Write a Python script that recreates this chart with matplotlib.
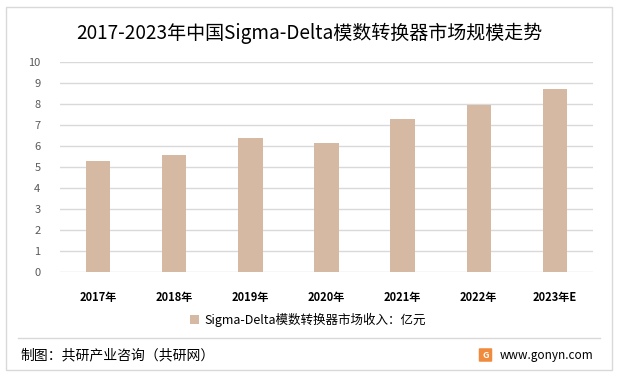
import matplotlib
matplotlib.use("Agg")
from matplotlib import pyplot as plt
from matplotlib.patches import Rectangle, FancyBboxPatch
from matplotlib.lines import Line2D

plt.rcParams['font.family'] = ['Noto Sans CJK SC', 'DejaVu Sans']

years = ['2017年', '2018年', '2019年', '2020年', '2021年', '2022年', '2023年E']
revenue = [5.3, 5.55, 6.4, 6.15, 7.3, 7.95, 8.7]
yticks = list(range(0, 11))

title = '2017-2023年中国Sigma-Delta模数转换器市场规模走势'
legend_label = 'Sigma-Delta模数转换器市场收入：亿元'

bar_color = '#d5b9a2'
grid_color = '#d9d9d9'

fig = plt.figure(figsize=(6.18, 3.77), dpi=100)
W, H = 618, 377

# outer frame and footer separator
fig.patches.append(Rectangle((6 / W, 1 - 370 / H), 606 / W, 363 / H, transform=fig.transFigure,
                             fill=False, edgecolor='#d9d9d9', linewidth=1))
fig.lines.append(Line2D([18 / W, 600 / W], [1 - 338 / H, 1 - 338 / H], transform=fig.transFigure,
                        color='#d9d9d9', linewidth=1))

ax = fig.add_axes([60 / W, 1 - 272 / H, 533 / W, 210 / H])
x = range(len(years))
ax.bar(x, revenue, width=0.32, color=bar_color, zorder=3, label=legend_label)
ax.set_ylim(0, 10)
ax.set_xlim(-0.5, len(years) - 0.5)
ax.set_yticks(yticks)
ax.set_yticklabels([str(t) for t in yticks], color='#595959', fontsize=8)
ax.set_xticks(list(x))
ax.set_xticklabels(years, fontsize=8, fontweight='bold', color='#000000')
ax.tick_params(axis='both', length=0)
ax.tick_params(axis='x', pad=14)
ax.tick_params(axis='y', pad=14)
ax.grid(axis='y', color=grid_color, linewidth=1, zorder=0)
for s in ax.spines.values():
    s.set_visible(False)

ax.legend(loc='center', bbox_to_anchor=(308 / W, 1 - 320 / H), bbox_transform=fig.transFigure,
          frameon=False, fontsize=9, handlelength=0.7, handleheight=0.7, handletextpad=0.4)

fig.text(309 / W, 1 - 33 / H, title, ha='center', va='center', fontsize=13.7, color='#000000')

fig.text(20 / W, 1 - 355 / H, '制图：共研产业咨询（共研网）', ha='left', va='center', fontsize=10, color='#000000')
fig.text(593 / W, 1 - 355 / H, 'www.gonyn.com', ha='right', va='center', fontsize=8.5, color='#000000')
fig.patches.append(FancyBboxPatch((480 / W, 1 - 361 / H), 11 / W, 12 / H, transform=fig.transFigure,
                                  boxstyle='round,pad=0.002', facecolor='#f08a3c', edgecolor='none'))
fig.text(485.5 / W, 1 - 355 / H, 'G', ha='center', va='center', fontsize=6.5, fontweight='bold', color='white')

fig.savefig('out.png', dpi=100)
